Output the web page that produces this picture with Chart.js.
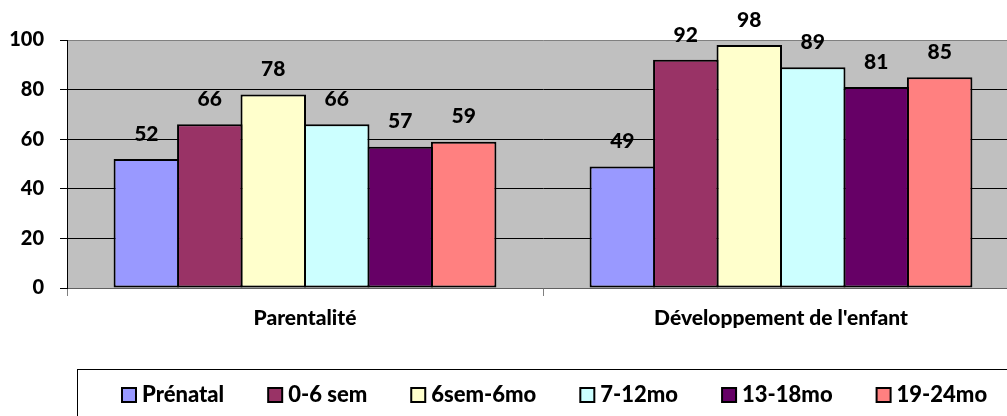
<!DOCTYPE html>
<html>
<head>
<meta charset="utf-8">
<script src="https://cdn.jsdelivr.net/npm/chart.js@4/dist/chart.umd.min.js"></script>
<style>
  html, body { margin: 0; padding: 0; overflow: hidden; background: #fff; width: 1007px; height: 416px; }
  canvas { display: block; }
</style>
</head>
<body>
<canvas id="c" width="1020" height="416" style="width:1020px;height:416px"></canvas>
<script>
// ---- data ----
const categories = ['Parentalité', "Développement de l'enfant"];
const seriesNames = ['Prénatal', '0-6 sem', '6sem-6mo', '7-12mo', '13-18mo', '19-24mo'];
const prenatal = [52, 49];
const sem0to6 = [66, 92];
const sem6toMo6 = [78, 98];
const mo7to12 = [66, 89];
const mo13to18 = [57, 81];
const mo19to24 = [59, 85];
const yTickValues = [0, 20, 40, 60, 80, 100];

// ---- styles ----
const seriesColors = ['#9999FF', '#993366', '#FFFFCC', '#CCFFFF', '#660066', '#FF8080'];
const FONT = 'Lato, "Liberation Sans", sans-serif';
const W = '900';
const seriesValues = [prenatal, sem0to6, sem6toMo6, mo7to12, mo13to18, mo19to24];

const bgPlugin = {
  id: 'bg',
  beforeDraw(chart) {
    const { ctx, chartArea: a } = chart;
    ctx.save();
    ctx.fillStyle = '#fff';
    ctx.fillRect(0, 0, chart.width, chart.height);
    ctx.fillStyle = '#C0C0C0';
    ctx.fillRect(a.left, a.top, a.right - a.left, a.bottom - a.top);
    ctx.restore();
  }
};

const labelPlugin = {
  id: 'vlabels',
  afterDatasetsDraw(chart) {
    const { ctx } = chart;
    ctx.save();
    ctx.font = W + ' 21px ' + FONT;
    ctx.fillStyle = '#000';
    ctx.textAlign = 'center';
    ctx.textBaseline = 'middle';
    chart.data.datasets.forEach((ds, i) => {
      chart.getDatasetMeta(i).data.forEach((el, j) => {
        ctx.fillText(String(ds.data[j]), el.x, el.y - 25);
      });
    });
    ctx.restore();
  }
};

const legendPlugin = {
  id: 'boxlegend',
  afterDraw(chart) {
    const { ctx } = chart;
    ctx.save();
    ctx.strokeStyle = '#000';
    ctx.lineWidth = 1;
    ctx.strokeRect(77.5, 369.5, 1100, 100);
    ctx.font = W + ' 22px ' + FONT;
    ctx.textBaseline = 'middle';
    let x = 122;
    const yc = 395;
    const box = 14;
    chart.data.datasets.forEach((ds) => {
      ctx.fillStyle = ds.backgroundColor;
      ctx.fillRect(x, yc - box / 2, box, box);
      ctx.lineWidth = 2;
      ctx.strokeStyle = '#000';
      ctx.strokeRect(x, yc - box / 2, box, box);
      ctx.fillStyle = '#000';
      ctx.textAlign = 'left';
      const tx = x + box + 6;
      ctx.fillText(ds.label, tx, yc);
      x = tx + ctx.measureText(ds.label).width + 44;
    });
    ctx.restore();
  }
};

new Chart(document.getElementById('c'), {
  type: 'bar',
  data: {
    labels: categories,
    datasets: seriesNames.map((name, i) => ({
      label: name,
      data: seriesValues[i],
      backgroundColor: seriesColors[i],
      borderColor: '#000',
      borderWidth: 2,
      borderSkipped: false,
      categoryPercentage: 0.8,
      barPercentage: 1.032
    }))
  },
  options: {
    responsive: false,
    animation: false,
    devicePixelRatio: 1,
    layout: { padding: { top: 40, left: 0, right: 1, bottom: 0 } },
    plugins: { legend: { display: false }, tooltip: { enabled: false } },
    scales: {
      x: {
        offset: true,
        grid: { offset: true, drawOnChartArea: false, drawTicks: true, tickLength: 8, color: '#808080' },
        border: { display: true, color: '#606060', width: 1 },
        ticks: { color: '#000', font: { family: FONT, size: 21, weight: W }, padding: 10, maxRotation: 0 },
        afterFit(s) { s.height = 128; }
      },
      y: {
        min: 0, max: 100,
        afterBuildTicks(s) { s.ticks = yTickValues.map(v => ({ value: v })); },
        grid: {
          color: (c) => (c.tick && (c.tick.value === 100) ? '#808080' : (c.tick && c.tick.value === 0 ? '#606060' : '#000')),
          tickColor: '#000',
          tickLength: 7,
          lineWidth: 1
        },
        border: { display: true, color: '#000', width: 1 },
        ticks: { color: '#000', font: { family: FONT, size: 20, weight: W }, padding: 16 },
        afterFit(s) { s.width = 67; }
      }
    }
  },
  plugins: [bgPlugin, labelPlugin, legendPlugin]
});
</script>
</body>
</html>
